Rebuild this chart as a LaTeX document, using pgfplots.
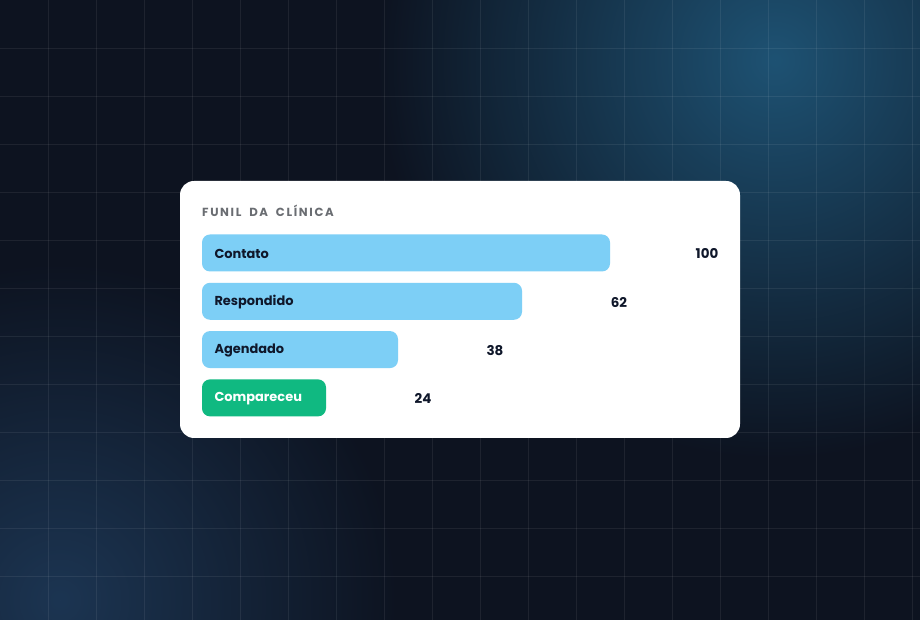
\documentclass[border=0pt]{standalone}
\usepackage{pgfplots}
\pgfplotsset{compat=1.18}
\usepackage{pgfplotstable}
\usepackage{fontspec}
\setmainfont{Poppins}
\usetikzlibrary{fadings}
\tikzfading[name=softglow, inner color=transparent!0, outer color=transparent!100]

\definecolor{bgbase}{HTML}{0D1320}
\definecolor{glowA}{HTML}{1E5273}
\definecolor{glowB}{HTML}{1C3552}
\definecolor{barblue}{HTML}{7DCFF6}
\definecolor{bargreen}{HTML}{10B981}
\definecolor{ink}{HTML}{0F172A}
\definecolor{titlegray}{HTML}{6A6D72}

% y = row, len = drawn bar length (px), val = shown value
\pgfplotstableread{
y len val name
0 408 100 Contato
1 320 62  Respondido
2 196 38  Agendado
}\funilblue
\pgfplotstableread{
y len val name
3 124 24  Compareceu
}\funilgreen

\begin{document}
\begin{tikzpicture}[x=1bp,y=1bp]
\useasboundingbox (0,0) rectangle (920,620);
% background
\fill[bgbase] (0,0) rectangle (920,620);
\fill[glowA, path fading=softglow] (775,560) circle (400);
\fill[glowB, path fading=softglow] (60,20) circle (340);
\foreach \k in {1,...,19} \draw[white, opacity=0.07, line width=0.8bp] (\k*48,0) -- (\k*48,620);
\foreach \k in {1,...,12} \draw[white, opacity=0.07, line width=0.8bp] (0,620-\k*48) -- (920,620-\k*48);
% card
\fill[white, rounded corners=14bp] (180,182) rectangle (740,439);
\node[anchor=west, inner sep=0pt, text=titlegray,
  font={\fontspec{Poppins Bold}[LetterSpace=14,WordSpace=1.9]\fontsize{11.8}{12}\selectfont}]
  at (202,409) {FUNIL DA CLÍNICA};

\begin{axis}[
  at={(202bp,391.15bp)}, anchor=north west,
  scale only axis, width=516bp, height=193.2bp,
  xmin=0, xmax=516, ymin=-0.5, ymax=3.5, y dir=reverse,
  hide axis, clip=false,
  xbar, bar width=37bp,
  /pgf/number format/assume math mode=true,
]
\addplot[xbar, bar shift=0pt, fill=barblue, draw=none, rounded corners=8bp,
  nodes near coords, point meta=explicit,
  nodes near coords style={anchor=center, xshift=97bp, yshift=-1bp, text=ink,
    font=\bfseries\fontsize{13.5}{14}\selectfont}]
  table[x=len, y=y, meta=val] {\funilblue};
\addplot[xbar, bar shift=0pt, fill=bargreen, draw=none, rounded corners=8bp,
  nodes near coords, point meta=explicit,
  nodes near coords style={anchor=center, xshift=97bp, yshift=-1bp, text=ink,
    font=\bfseries\fontsize{13.5}{14}\selectfont}]
  table[x=len, y=y, meta=val] {\funilgreen};
\addplot[xbar, bar shift=0pt, draw=none, fill=none,
  nodes near coords, point meta=explicit symbolic,
  nodes near coords style={anchor=west, xshift=9bp, yshift=-1bp, text=ink,
    font=\bfseries\fontsize{13}{14}\selectfont}]
  table[x expr=0, y=y, meta=name] {\funilblue};
\addplot[xbar, bar shift=0pt, draw=none, fill=none,
  nodes near coords, point meta=explicit symbolic,
  nodes near coords style={anchor=west, xshift=9bp, yshift=-1bp, text=white,
    font=\bfseries\fontsize{13}{14}\selectfont}]
  table[x expr=0, y=y, meta=name] {\funilgreen};
\end{axis}
\end{tikzpicture}
\end{document}
